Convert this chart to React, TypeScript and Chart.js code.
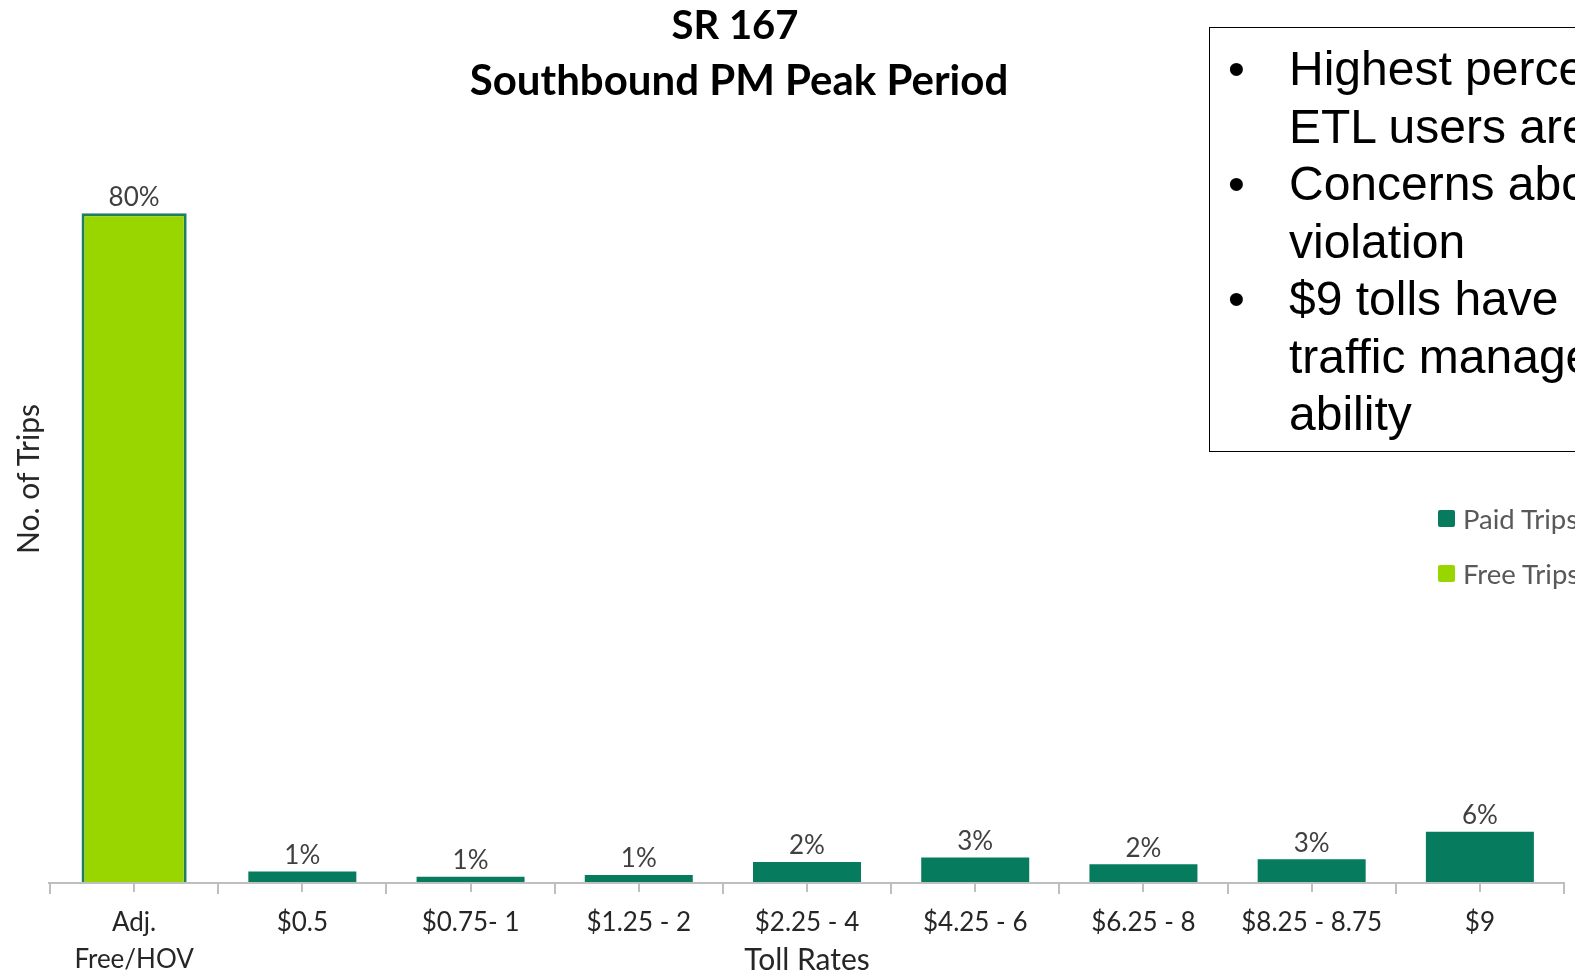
import React, { useEffect, useRef } from "react";
import { Chart, registerables } from "chart.js";

Chart.register(...registerables);

const categories: (string | string[])[] = [
  ["Adj.", "Free/HOV"],
  "$0.5",
  "$0.75- 1",
  "$1.25 - 2",
  "$2.25 - 4",
  "$4.25 - 6",
  "$6.25 - 8",
  "$8.25 - 8.75",
  "$9",
];
const freeTrips: (number | null)[] = [80, null, null, null, null, null, null, null, null];
const paidTrips: (number | null)[] = [null, 1.26, 0.64, 0.84, 2.4, 2.92, 2.12, 2.72, 6.0];
const valueLabels: string[] = ["80%", "1%", "1%", "1%", "2%", "3%", "2%", "3%", "6%"];

const titleLines = ["SR 167", "Southbound PM Peak Period"];
const xTitle = "Toll Rates";
const yTitle = "No. of Trips";
const legendItems = [
  { label: "Paid Trips", color: "#077B5E" },
  { label: "Free Trips", color: "#99D600" },
];
const noteLines: { bullet: boolean; text: string }[] = [
  { bullet: true, text: "Highest percentage of" },
  { bullet: false, text: "ETL users are HOVs" },
  { bullet: true, text: "Concerns about HOV" },
  { bullet: false, text: "violation" },
  { bullet: true, text: "$9 tolls have limited" },
  { bullet: false, text: "traffic management" },
  { bullet: false, text: "ability" },
];

const PAID = "#077B5E";
const FREE = "#99D600";
const FREE_BORDER = "#1E7E5E";
const AXIS = "#BFBFBF";
const FONT = "Lato, 'Open Sans', sans-serif";

const overlayPlugin = {
  id: "overlay",
  afterDatasetsDraw(chart: any) {
    const { ctx, chartArea, scales } = chart;
    const x = scales.x;
    const y = scales.y;
    const n = categories.length;
    const half = (x.getPixelForValue(1) - x.getPixelForValue(0)) / 2;
    ctx.save();
    ctx.strokeStyle = AXIS;
    ctx.lineWidth = 2;
    const yb = chartArea.bottom + 1;
    ctx.beginPath();
    ctx.moveTo(chartArea.left - 2, yb);
    ctx.lineTo(chartArea.right + 1, yb);
    ctx.stroke();
    for (let i = 0; i <= n; i++) {
      const bx = Math.round(x.getPixelForValue(0) - half + i * 2 * half);
      ctx.beginPath();
      ctx.moveTo(bx, yb);
      ctx.lineTo(bx, yb + 11);
      ctx.stroke();
    }
    for (let i = 0; i < n; i++) {
      const cx = Math.round(x.getPixelForValue(i));
      ctx.beginPath();
      ctx.moveTo(cx, yb);
      ctx.lineTo(cx, yb + 9);
      ctx.stroke();
    }
    ctx.fillStyle = "#404040";
    ctx.font = `26px ${FONT}`;
    ctx.textAlign = "center";
    ctx.textBaseline = "middle";
    for (let i = 0; i < n; i++) {
      const v = freeTrips[i] ?? paidTrips[i];
      if (v == null) continue;
      const top = y.getPixelForValue(v);
      ctx.fillText(valueLabels[i], x.getPixelForValue(i), top - 16);
    }
    ctx.restore();
  },
};

function ChartCanvas() {
  const ref = useRef<HTMLCanvasElement | null>(null);
  useEffect(() => {
    if (!ref.current) return;
    const chart = new Chart(ref.current, {
      type: "bar",
      data: {
        labels: categories as any,
        datasets: [
          {
            label: "Free Trips",
            data: freeTrips as any,
            backgroundColor: FREE,
            borderColor: FREE_BORDER,
            borderWidth: 3,
            borderSkipped: "bottom",
            barPercentage: 0.625,
            categoryPercentage: 1,
          },
          {
            label: "Paid Trips",
            data: paidTrips as any,
            backgroundColor: PAID,
            borderWidth: 0,
            barPercentage: 0.642,
            categoryPercentage: 1,
          },
        ],
      },
      options: {
        responsive: false,
        animation: false,
        devicePixelRatio: 1,
        layout: { padding: { left: 50, right: 11, top: 46, bottom: 0 } },
        plugins: {
          legend: { display: false },
          tooltip: { enabled: false },
          title: { display: false },
        },
        scales: {
          x: {
            stacked: true,
            offset: true,
            grid: { display: false, drawTicks: false },
            border: { display: false },
            ticks: {
              color: "#262626",
              padding: 22,
              autoSkip: false,
              maxRotation: 0,
              font: { family: FONT, size: 26, lineHeight: 1.42 },
            },
            afterFit: (scale: any) => {
              scale.height = 91;
            },
          },
          y: {
            display: false,
            stacked: true,
            min: 0,
            max: 100,
          },
        },
      },
      plugins: [overlayPlugin],
    });
    return () => chart.destroy();
  }, []);
  return (
    <canvas
      ref={ref}
      width={1575}
      height={973}
      style={{ position: "absolute", left: 0, top: 0, width: 1575, height: 973 }}
    />
  );
}

export default function App() {
  return (
    <div
      style={{
        position: "fixed",
        left: 0,
        top: 0,
        width: 1575,
        height: 973,
        overflow: "hidden",
        background: "#fff",
        fontFamily: FONT,
      }}
    >
      <ChartCanvas />
      {/* Title */}
      <div
        style={{
          position: "absolute",
          left: 439,
          width: 600,
          top: 0,
          textAlign: "center",
          fontWeight: 700,
          fontSize: 40,
          lineHeight: "55px",
          color: "#000",
        }}
      >
        <div style={{ position: "absolute", top: -3, width: "100%", transform: "translateX(-4px)" }}>{titleLines[0]}</div>
        <div style={{ position: "absolute", top: 52, width: "100%", fontSize: 42 }}>{titleLines[1]}</div>
      </div>
      {/* Y axis title */}
      <div
        style={{
          position: "absolute",
          left: 27,
          top: 479,
          transform: "translate(-50%, -50%) rotate(-90deg)",
          whiteSpace: "nowrap",
          fontSize: 30,
          color: "#262626",
        }}
      >
        {yTitle}
      </div>
      {/* X axis title */}
      <div
        style={{
          position: "absolute",
          left: 807,
          top: 958,
          transform: "translate(-50%, -50%)",
          whiteSpace: "nowrap",
          fontSize: 30,
          color: "#262626",
        }}
      >
        {xTitle}
      </div>
      {/* Legend */}
      {legendItems.map((it, i) => (
        <div
          key={it.label}
          style={{
            position: "absolute",
            left: 1438,
            top: 510 + i * 55,
            height: 17,
            display: "flex",
            alignItems: "center",
            whiteSpace: "nowrap",
          }}
        >
          <div style={{ width: 17, height: 17, background: it.color, borderRadius: 2 }} />
          <div style={{ marginLeft: 8, fontSize: 27.5, color: "#595959" }}>{it.label}</div>
        </div>
      ))}
      {/* Note box */}
      <div
        style={{
          position: "absolute",
          left: 1209,
          top: 27,
          width: 620,
          height: 425,
          border: "1.5px solid #000",
          boxSizing: "border-box",
          fontFamily: "'Liberation Sans', Arial, sans-serif",
          fontSize: 48,
          color: "#000",
        }}
      >
        {noteLines.map((ln, i) => (
          <div
            key={i}
            style={{
              position: "absolute",
              left: 0,
              top: 41 + i * 57.5 - 30,
              height: 60,
              lineHeight: "60px",
              whiteSpace: "nowrap",
            }}
          >
            {ln.bullet && (
              <span style={{ position: "absolute", left: 18, top: 0 }}>•</span>
            )}
            <span style={{ position: "absolute", left: 79, top: 0 }}>{ln.text}</span>
          </div>
        ))}
      </div>
    </div>
  );
}
